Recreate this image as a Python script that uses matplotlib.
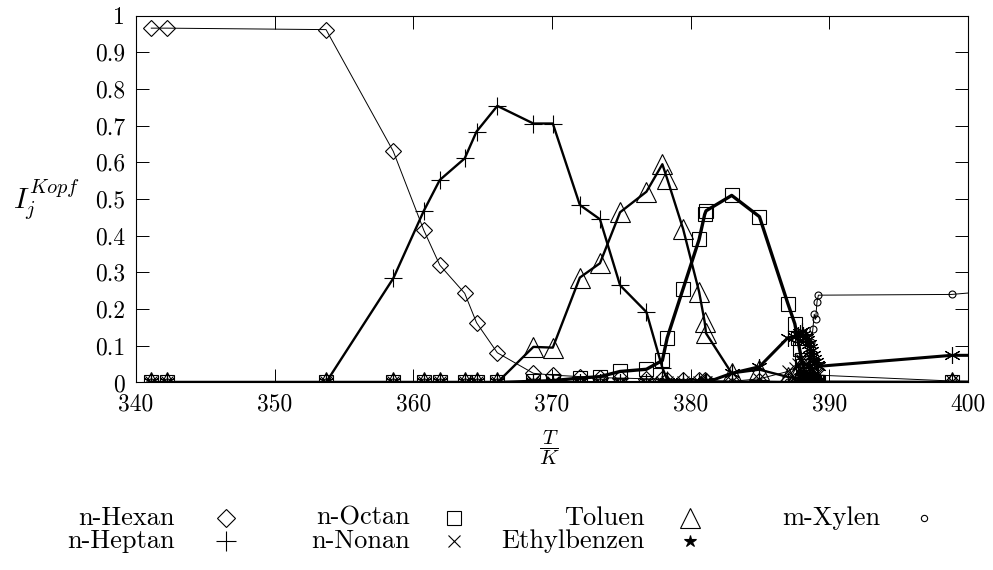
import matplotlib
matplotlib.use("Agg")
import matplotlib.pyplot as plt
from matplotlib.lines import Line2D

plt.rcParams['font.family'] = 'serif'
plt.rcParams['font.serif'] = ['cmr10']
plt.rcParams['mathtext.fontset'] = 'cm'
plt.rcParams['axes.formatter.use_mathtext'] = True

# temperatures T/K (last one lies beyond the axis, lines run off the edge)
T = [341.1, 342.2, 353.7, 358.55, 360.75, 361.9, 363.7, 364.55, 366.05, 368.65,
     370.05, 372.0, 373.45, 374.9, 376.8, 377.95, 378.3, 379.45, 380.6, 381.0,
     381.1, 382.95, 384.95, 387.0,
     387.5, 387.7, 387.85, 388.0, 388.1, 388.2, 388.3, 388.4,
     388.5, 388.6, 388.7, 388.8, 388.9, 389.0, 389.1, 389.2,
     398.8, 405.0]

hexan = [0.966, 0.966, 0.962, 0.630, 0.415, 0.320, 0.243, 0.163, 0.081, 0.025,
         0.020, 0.016, 0.013, 0.012, 0.010, 0.009, 0.008, 0.007, 0.006, 0.006,
         0.005, 0.004, 0.004, 0.003,
         0.003, 0.003, 0.002, 0.002, 0.002, 0.002, 0.002, 0.002,
         0.001, 0.001, 0.001, 0.001, 0.001, 0.001, 0.001, 0.001,
         0.0, 0.0]
heptan = [0.0, 0.0, 0.0, 0.284, 0.468, 0.552, 0.611, 0.684, 0.754, 0.706,
          0.706, 0.484, 0.445, 0.265, 0.192, 0.040, 0.008, 0.004, 0.002, 0.002,
          0.002, 0.001, 0.001, 0.001,
          0.0, 0.0, 0.0, 0.0, 0.0, 0.0, 0.0, 0.0,
          0.0, 0.0, 0.0, 0.0, 0.0, 0.0, 0.0, 0.0,
          0.0, 0.0]
octan = [0.0, 0.0, 0.0, 0.0, 0.0, 0.0, 0.0, 0.0, 0.0, 0.003,
         0.005, 0.012, 0.016, 0.030, 0.036, 0.060, 0.122, 0.256, 0.390, 0.458,
         0.468, 0.510, 0.452, 0.215,
         0.160, 0.120, 0.090, 0.060, 0.045, 0.030, 0.020, 0.015,
         0.010, 0.007, 0.005, 0.003, 0.002, 0.001, 0.001, 0.0,
         0.0, 0.0]
nonan = [0.0, 0.0, 0.0, 0.0, 0.0, 0.0, 0.0, 0.0, 0.0, 0.0,
         0.0, 0.0, 0.0, 0.0, 0.0, 0.0, 0.0, 0.0, 0.0, 0.0,
         0.0, 0.003, 0.010, 0.030,
         0.040, 0.050, 0.060, 0.060, 0.055, 0.050, 0.050, 0.045,
         0.040, 0.040, 0.035, 0.030, 0.028, 0.025, 0.022, 0.020,
         0.004, 0.002]
toluen = [0.0, 0.0, 0.0, 0.0, 0.0, 0.0, 0.0, 0.0, 0.0, 0.097,
          0.095, 0.286, 0.325, 0.464, 0.520, 0.595, 0.555, 0.418, 0.247, 0.165,
          0.134, 0.025, 0.035, 0.015,
          0.012, 0.010, 0.009, 0.008, 0.007, 0.006, 0.005, 0.005,
          0.004, 0.004, 0.003, 0.003, 0.002, 0.002, 0.002, 0.002,
          0.001, 0.001]
ethylbenzen = [0.0, 0.0, 0.0, 0.0, 0.0, 0.0, 0.0, 0.0, 0.0, 0.0,
               0.0, 0.0, 0.0, 0.0, 0.0, 0.0, 0.0, 0.0, 0.0, 0.0,
               0.0, 0.025, 0.043, 0.122,
               0.125, 0.130, 0.135, 0.140, 0.130, 0.125, 0.120, 0.115,
               0.105, 0.095, 0.085, 0.075, 0.065, 0.055, 0.048, 0.044,
               0.074, 0.074]
xylen = [0.0, 0.0, 0.0, 0.0, 0.0, 0.0, 0.0, 0.0, 0.0, 0.0,
         0.0, 0.0, 0.0, 0.0, 0.0, 0.0, 0.0, 0.0, 0.0, 0.0,
         0.0, 0.0, 0.0, 0.0,
         0.003, 0.005, 0.008, 0.010, 0.015, 0.020, 0.030, 0.040,
         0.055, 0.080, 0.110, 0.145, 0.186, 0.172, 0.220, 0.238,
         0.240, 0.26]

xticks = [340, 350, 360, 370, 380, 390, 400]
yticks = [0, 0.1, 0.2, 0.3, 0.4, 0.5, 0.6, 0.7, 0.8, 0.9, 1]
ytick_labels = ['0', '0.1', '0.2', '0.3', '0.4', '0.5', '0.6', '0.7', '0.8', '0.9', '1']

# name, data, marker, markersize, linewidth, filled
series = [
    ('n-Hexan', hexan, 'D', 8.5, 0.7, False),
    ('n-Heptan', heptan, '+', 13.5, 1.7, False),
    ('n-Octan', octan, 's', 10.5, 2.4, False),
    ('n-Nonan', nonan, 'x', 9, 0.7, False),
    ('Toluen', toluen, '^', 14, 1.7, False),
    ('Ethylbenzen', ethylbenzen, (6, 2, 0), 12, 2.2, False),
    ('m-Xylen', xylen, 'o', 5, 0.7, False),
]
# key symbols (drawn like the LaTeX symbols of the original key)
key_markers = ['D', '+', 's', 'x', '^', '*', 'o']
key_sizes = [9, 14, 10, 8, 15, 9, 4.5]

fig = plt.figure(figsize=(9.93, 5.70), dpi=100)
ax = fig.add_axes([0.137, 0.329, 0.838, 0.6435])

for name, vals, m, ms, lw, filled in series:
    fc = 'black' if filled else 'none'
    ax.plot(T, vals, color='black', lw=lw, marker=m, ms=ms, mfc=fc,
            mec='black', mew=0.8)

ax.set_xlim(340, 400)
ax.set_ylim(0, 1)
ax.set_xticks(xticks)
ax.set_xticklabels([str(t) for t in xticks])
ax.set_yticks(yticks)
ax.set_yticklabels(ytick_labels)
ax.tick_params(direction='in', length=9.5, width=0.7, top=True, right=True,
               labelsize=17, pad=8)
for sp in ax.spines.values():
    sp.set_linewidth(0.8)

ax.set_ylabel(r'$I_j^{Kopf}$', rotation=0, fontsize=21)
ax.yaxis.set_label_coords(-0.108, 0.497)
ax.yaxis.label.set_va('center')
ax.set_xlabel(r'$\dfrac{T}{K}$', fontsize=15)
ax.xaxis.set_label_coords(0.497, -0.179)
ax.xaxis.label.set_va('center')

# key: two rows, filled column by column, text right-aligned before symbol
text_x = [0.1762, 0.4129, 0.6495, 0.8862]
mark_x = [0.2276, 0.4572, 0.6949, 0.9305]
row_y = [0.0912, 0.0509]
for i, (name, vals, m, ms, lw, filled) in enumerate(series):
    col, row = i // 2, i % 2
    fig.text(text_x[col], row_y[row], name, ha='right', va='center', fontsize=19)
    km = key_markers[i]
    fc = 'black' if km == '*' else 'none'
    fig.add_artist(Line2D([mark_x[col]], [row_y[row]], ls='none', marker=km,
                          ms=key_sizes[i], mfc=fc, mec='black', mew=0.8,
                          transform=fig.transFigure))

fig.savefig('out.png', dpi=100)
